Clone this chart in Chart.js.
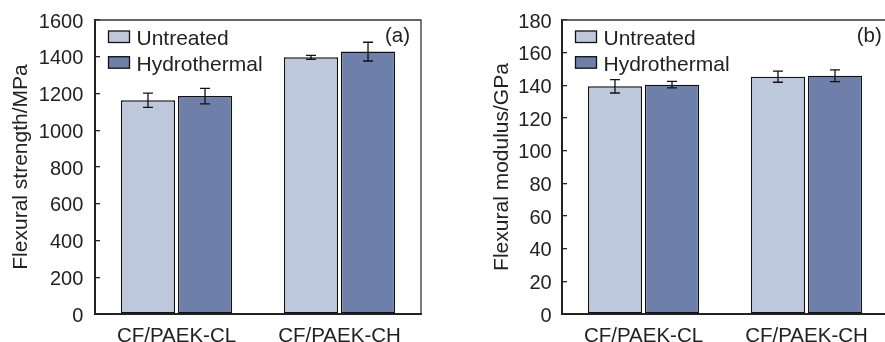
<!DOCTYPE html>
<html>
<head>
<meta charset="utf-8">
<script src="https://cdn.jsdelivr.net/npm/chart.js@4.4.0/dist/chart.umd.min.js"></script>
<style>
  html, body { margin: 0; padding: 0; background: #fff; }
  body { width: 885px; height: 342px; position: relative; overflow: hidden; }
  .panel { position: absolute; top: 0; width: 450px; height: 342px; }
  .panel canvas { display: block; }
  #wrapA { left: 0; }
  #wrapB { left: 450px; }
</style>
</head>
<body>
<div class="panel" id="wrapA"><canvas id="chartA" width="450" height="342"></canvas></div>
<div class="panel" id="wrapB"><canvas id="chartB" width="450" height="342"></canvas></div>
<script>
const categories = ["CF/PAEK-CL", "CF/PAEK-CH"];
const seriesNames = ["Untreated", "Hydrothermal"];
const seriesColors = ["#bec8dc", "#6e7faa"];

// (a) flexural strength, MPa
const strengthUntreated = [1163, 1397];
const strengthUntreatedErr = [39, 11];
const strengthHydro = [1186, 1428];
const strengthHydroErr = [42, 51];
const strengthTicks = [0, 200, 400, 600, 800, 1000, 1200, 1400, 1600];

// (b) flexural modulus, GPa
const modulusUntreated = [139.4, 145.3];
const modulusUntreatedErr = [4.1, 3.4];
const modulusHydro = [140.4, 145.9];
const modulusHydroErr = [2.0, 3.6];
const modulusTicks = [0, 20, 40, 60, 80, 100, 120, 140, 160, 180];

const FONT = "'Liberation Sans', Arial, sans-serif";
const INK = "#222";

// error bars, top/right frame, legend inside the plot, panel letter
function makeDecor(cfg) {
  return {
    id: "decor",
    afterDatasetsDraw(chart) {
      const ctx = chart.ctx;
      const y = chart.scales.y;
      ctx.save();
      ctx.strokeStyle = "#111";
      ctx.lineWidth = 1.3;
      chart.data.datasets.forEach((ds, di) => {
        const meta = chart.getDatasetMeta(di);
        meta.data.forEach((bar, i) => {
          const v = ds.data[i];
          const e = cfg.errors[di][i];
          const top = y.getPixelForValue(v + e);
          const bot = y.getPixelForValue(v - e);
          ctx.beginPath();
          ctx.moveTo(bar.x, top); ctx.lineTo(bar.x, bot);
          ctx.moveTo(bar.x - 5, top); ctx.lineTo(bar.x + 5, top);
          ctx.moveTo(bar.x - 5, bot); ctx.lineTo(bar.x + 5, bot);
          ctx.stroke();
        });
      });
      ctx.restore();
    },
    afterDraw(chart) {
      const ctx = chart.ctx;
      const a = chart.chartArea;
      ctx.save();
      // frame top + right
      ctx.strokeStyle = "#333";
      ctx.lineWidth = 1.3;
      ctx.beginPath();
      ctx.moveTo(a.left, a.top); ctx.lineTo(a.right, a.top); ctx.lineTo(a.right, a.bottom);
      ctx.stroke();

      // legend
      ctx.font = "21px " + FONT;
      ctx.textBaseline = "alphabetic";
      ctx.textAlign = "left";
      chart.data.datasets.forEach((ds, di) => {
        const bx = a.left + 13.5;
        const by = a.top + 11 + di * 25.7;
        ctx.fillStyle = ds.backgroundColor;
        ctx.fillRect(bx, by, 21, 11.5);
        ctx.strokeStyle = "#111";
        ctx.lineWidth = 1.3;
        ctx.strokeRect(bx, by, 21, 11.5);
        ctx.fillStyle = INK;
        ctx.fillText(ds.label, bx + 28, a.top + 25 + di * 26);
      });

      // panel letter
      ctx.font = "20.5px " + FONT;
      ctx.fillText(cfg.letter, a.left + cfg.letterX, a.top + 22);
      ctx.restore();
    }
  };
}

function makeChart(id, opts) {
  const ticks = opts.ticks;
  const chart = new Chart(document.getElementById(id), {
    type: "bar",
    data: {
      labels: categories,
      datasets: [
        { label: seriesNames[0], data: opts.values[0], backgroundColor: seriesColors[0] },
        { label: seriesNames[1], data: opts.values[1], backgroundColor: seriesColors[1] }
      ]
    },
    options: {
      responsive: false,
      animation: false,
      devicePixelRatio: 1,
      layout: { padding: { left: 0, top: opts.area.top, right: 450 - opts.area.right, bottom: 0 } },
      datasets: {
        bar: {
          categoryPercentage: 0.7,
          barPercentage: 0.95,
          borderColor: "#111",
          borderWidth: 1.4,
          borderSkipped: false
        }
      },
      plugins: { legend: { display: false }, tooltip: { enabled: false } },
      scales: {
        x: {
          grid: { display: false, drawTicks: false },
          border: { display: true, color: INK, width: 2 },
          ticks: { color: INK, padding: 10, font: { family: FONT, size: 20.5 } },
          afterFit: (s) => { s.height = 342 - opts.area.bottom; }
        },
        y: {
          min: ticks[0],
          max: ticks[ticks.length - 1],
          afterBuildTicks: (s) => { s.ticks = ticks.map((v) => ({ value: v })); },
          grid: { drawOnChartArea: false, drawTicks: true, tickLength: -5, color: INK, lineWidth: 1.3 },
          border: { display: true, color: INK, width: 2 },
          ticks: {
            color: INK,
            padding: opts.tickPad,
            labelOffset: 2,
            // small lineHeight keeps the scale from reserving extra room above the plot
            font: { family: FONT, size: 20, lineHeight: 0.2 },
            callback: (v) => String(v)
          },
          title: {
            display: true,
            text: opts.title,
            color: INK,
            font: { family: FONT, size: 21 },
            padding: { top: opts.titlePad, bottom: 0 }
          },
          afterFit: (s) => { s.width = opts.axisWidth; }
        }
      }
    },
    plugins: [makeDecor({ errors: opts.errors, letter: opts.letter, letterX: opts.letterX })]
  });

  // nudge the layout so the plot box lands where the reference has it
  for (let k = 0; k < 3; k++) {
    const a = chart.chartArea;
    const pad = chart.config.options.layout.padding;
    pad.top += opts.area.top - a.top;
    pad.right += a.right - opts.area.right;
    opts.axisWidth += opts.area.left - a.left;
    chart.update();
  }
  return chart;
}

makeChart("chartA", {
  values: [strengthUntreated, strengthHydro],
  errors: [strengthUntreatedErr, strengthHydroErr],
  ticks: strengthTicks,
  title: "Flexural strength/MPa",
  letter: "(a)",
  letterX: 290,
  area: { left: 95, top: 20, right: 421, bottom: 314 },
  axisWidth: 95,
  tickPad: 16.7,
  titlePad: 8.2
});

makeChart("chartB", {
  values: [modulusUntreated, modulusHydro],
  errors: [modulusUntreatedErr, modulusHydroErr],
  ticks: modulusTicks,
  title: "Flexural modulus/GPa",
  letter: "(b)",
  letterX: 294.7,
  area: { left: 112, top: 20, right: 438, bottom: 314 },
  axisWidth: 112,
  tickPad: 15.3,
  titlePad: 39.4
});
</script>
</body>
</html>
